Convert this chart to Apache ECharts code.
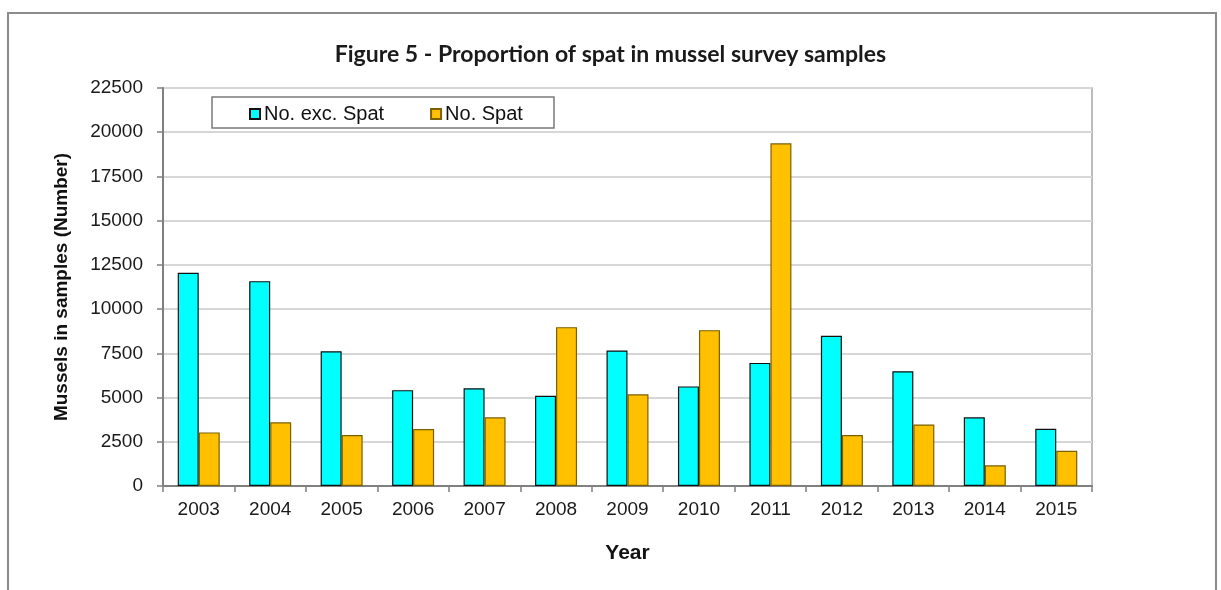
<!DOCTYPE html>
<html>
<head>
<meta charset="utf-8">
<script src="https://cdn.jsdelivr.net/npm/echarts@6/dist/echarts.min.js"></script>
<style>
  html, body { margin: 0; padding: 0; background: #fff; }
  #chart { width: 1221px; height: 590px; }
</style>
</head>
<body>
<div id="chart"></div>
<script>
const categories = ['2003','2004','2005','2006','2007','2008','2009','2010','2011','2012','2013','2014','2015'];
const noExcSpat = [12050, 11580, 7620, 5420, 5530, 5100, 7660, 5630, 6960, 8490, 6490, 3880, 3240];
const noSpat = [3030, 3600, 2880, 3220, 3880, 8980, 5180, 8810, 19370, 2880, 3480, 1170, 1990];
const seriesNames = ['No. exc. Spat', 'No. Spat'];
const titleText = 'Figure 5 - Proportion of spat in mussel survey samples';
const yAxisTitle = 'Mussels in samples (Number)';
const xAxisTitle = 'Year';

const chart = echarts.init(document.getElementById('chart'), null, { renderer: 'canvas' });
const labelFont = 'Liberation Sans, Arial, sans-serif';
chart.setOption({
  animation: false,
  backgroundColor: '#fff',
  title: {
    text: titleText,
    left: 'center',
    top: 38,
    textStyle: { fontFamily: 'Lato, sans-serif', fontWeight: 'bold', fontSize: 23, color: '#1a1a1a' }
  },
  graphic: [
    { type: 'rect', z: 0, silent: true,
      shape: { x: 8, y: 13, width: 1208, height: 620 },
      style: { fill: 'none', stroke: '#8c8c8c', lineWidth: 2 } },
    { type: 'rect', z: 3, silent: true,
      shape: { x: 212, y: 97, width: 342, height: 31 },
      style: { fill: '#fff', stroke: '#7a7a7a', lineWidth: 1.5 } }
  ],
  legend: {
    data: seriesNames,
    left: 249,
    top: 104,
    padding: 0,
    z: 4,
    itemGap: 46,
    itemWidth: 10,
    itemHeight: 10,
    icon: 'rect',
    textStyle: { fontFamily: labelFont, fontSize: 20, color: '#111', padding: [0, 0, 0, -1] }
  },
  grid: {
    left: 163, right: 129, top: 88, bottom: 104,
    show: true, borderColor: '#a6a6a6', borderWidth: 1.5, backgroundColor: 'transparent'
  },
  xAxis: {
    type: 'category',
    data: categories,
    name: xAxisTitle,
    nameLocation: 'middle',
    nameGap: 57,
    nameTextStyle: { fontFamily: labelFont, fontWeight: 'bold', fontSize: 21, color: '#111' },
    axisLine: { lineStyle: { color: '#808080', width: 2 } },
    axisTick: { show: true, alignWithLabel: false, length: 6, lineStyle: { color: '#808080', width: 1.5 } },
    axisLabel: { margin: 14, fontFamily: labelFont, fontSize: 19, color: '#1a1a1a' }
  },
  yAxis: {
    type: 'value',
    min: 0,
    max: 22500,
    interval: 2500,
    name: yAxisTitle,
    nameLocation: 'middle',
    nameGap: 92,
    nameTextStyle: { fontFamily: labelFont, fontWeight: 'bold', fontSize: 19, color: '#111' },
    axisLine: { show: true, lineStyle: { color: '#808080', width: 2 } },
    axisTick: { show: true, length: 6, lineStyle: { color: '#808080', width: 1.5 } },
    axisLabel: { margin: 20, fontFamily: labelFont, fontSize: 19, color: '#1a1a1a',
      formatter: function (v) { return String(v); } },
    splitLine: { show: true, lineStyle: { color: '#d6d6d6', width: 2 } }
  },
  series: [
    {
      name: seriesNames[0],
      type: 'bar',
      data: noExcSpat,
      barWidth: 21,
      barGap: '0%',
      itemStyle: { color: '#00FFFF', borderColor: '#111', borderWidth: 1.2 }
    },
    {
      name: seriesNames[1],
      type: 'bar',
      data: noSpat,
      barWidth: 21,
      barGap: '0%',
      itemStyle: { color: '#FFC000', borderColor: '#7a6000', borderWidth: 1.2 }
    }
  ]
});
</script>
</body>
</html>
